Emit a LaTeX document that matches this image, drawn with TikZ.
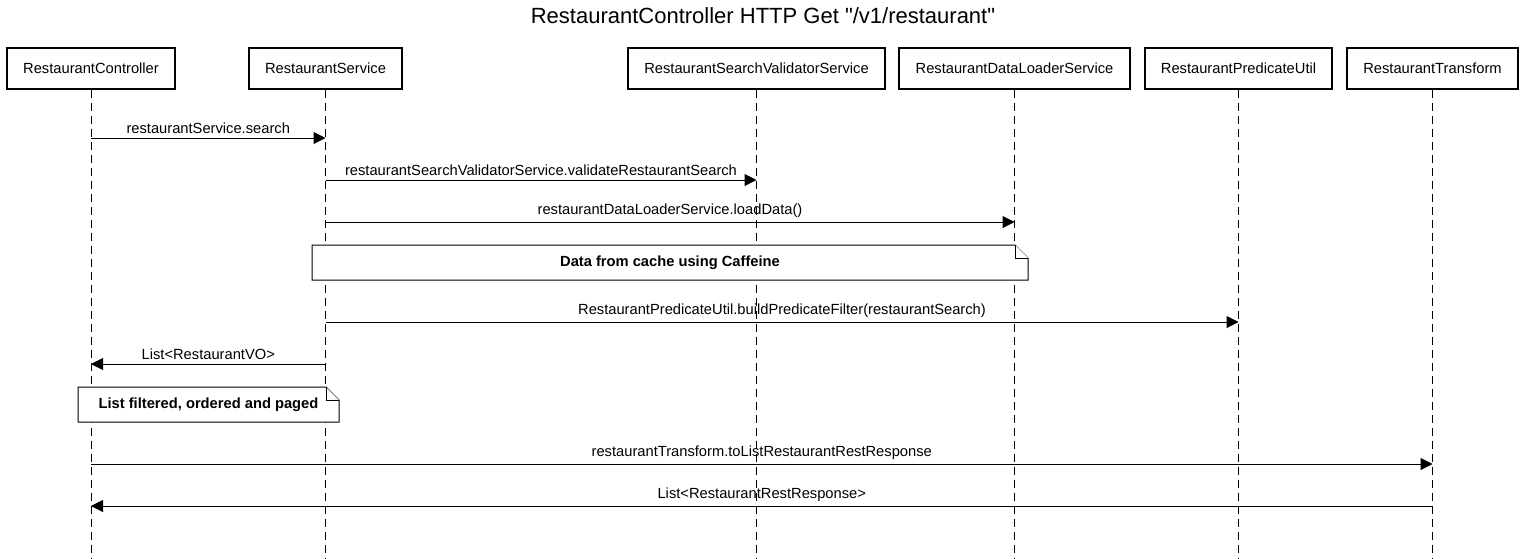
\documentclass[tikz,border=0pt]{standalone}
\usepackage{fontspec}
\setmainfont{Liberation Sans}
\usetikzlibrary{arrows.meta}
\tikzset{
  actor/.style={draw, line width=2pt, minimum height=41pt, inner sep=0pt, font=\fontsize{14.7}{17}\selectfont},
  lifeline/.style={line width=1pt, dash pattern=on 8pt off 5pt},
  msg/.style={line width=1pt, -{Triangle[length=12pt,width=12pt]}},
  msglabel/.style={above, inner sep=4pt, font=\fontsize{14.7}{17}\selectfont},
  note/.style={line width=1pt, fill=white},
  notetext/.style={inner sep=0pt, font=\bfseries\fontsize{14.7}{17}\selectfont}
}
\begin{document}
\begin{tikzpicture}[x=1pt, y=-1pt]
    \useasboundingbox (0,0) rectangle (1525,558);

    \node[font=\fontsize{22}{26}\selectfont] (title) at (763,16) {RestaurantController HTTP Get \textquotedbl/v1/restaurant\textquotedbl};

    \node[actor, minimum width=168pt] (ctl) at (91,68) {RestaurantController};
    \node[actor, minimum width=153pt] (svc) at (325.5,68) {RestaurantService};
    \node[actor, minimum width=257pt] (val) at (756.5,68) {RestaurantSearchValidatorService};
    \node[actor, minimum width=231pt] (dl) at (1014.5,68) {RestaurantDataLoaderService};
    \node[actor, minimum width=187pt] (pu) at (1238.5,68) {RestaurantPredicateUtil};
    \node[actor, minimum width=171pt] (tr) at (1432.5,68) {RestaurantTransform};

    \coordinate (bottom) at (0,558);
    \foreach \p in {ctl,svc,val,dl,pu,tr}
        \draw[lifeline] (\p.south) -- (\p |- bottom);

    \filldraw[note] (312,245) -- (1015,245) -- (1028,258) -- (1028,280) -- (312,280) -- cycle;
    \draw[note] (1015,245) -- (1015,258) -- (1028,258);
    \node[notetext] (cache) at (670,262.5) {Data from cache using Caffeine};

    \filldraw[note] (78,387) -- (326,387) -- (339,400) -- (339,422) -- (78,422) -- cycle;
    \draw[note] (326,387) -- (326,400) -- (339,400);
    \node[notetext] (paged) at (208.5,404.5) {List filtered, ordered and paged};

    \coordinate (m1) at (0,138);
    \coordinate (m2) at (0,180);
    \coordinate (m3) at (0,222);
    \coordinate (m4) at (0,322);
    \coordinate (m5) at (0,364);
    \coordinate (m6) at (0,464);
    \coordinate (m7) at (0,506);

    \draw[msg] (ctl |- m1) -- node[msglabel] {restaurantService.search} (svc |- m1);
    \draw[msg] (svc |- m2) -- node[msglabel] {restaurantSearchValidatorService.validateRestaurantSearch} (val |- m2);
    \draw[msg] (svc |- m3) -- node[msglabel] {restaurantDataLoaderService.loadData()} (dl |- m3);
    \draw[msg] (svc |- m4) -- node[msglabel] {RestaurantPredicateUtil.buildPredicateFilter(restaurantSearch)} (pu |- m4);
    \draw[msg] (svc |- m5) -- node[msglabel] {List<RestaurantVO>} (ctl |- m5);
    \draw[msg] (ctl |- m6) -- node[msglabel] {restaurantTransform.toListRestaurantRestResponse} (tr |- m6);
    \draw[msg] (tr |- m7) -- node[msglabel] {List<RestaurantRestResponse>} (ctl |- m7);
\end{tikzpicture}
\end{document}
